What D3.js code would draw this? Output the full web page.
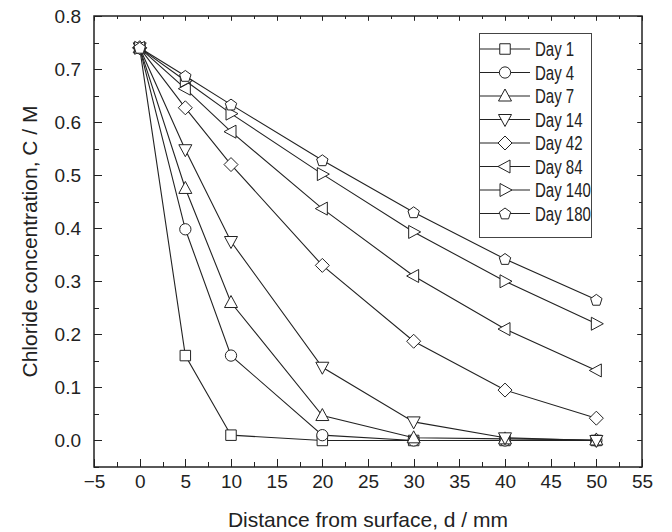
<!DOCTYPE html>
<html>
<head>
<meta charset="utf-8">
<script src="https://cdn.jsdelivr.net/npm/d3@7"></script>
<style>
body { margin: 0; background: #fff; }
text { font-family: "Liberation Sans", Arial, sans-serif; fill: #222; }
</style>
</head>
<body>
<div id="chart"></div>
<script>
var width = 672,
    height = 532,
    margin = { top: 16, right: 30, bottom: 65, left: 94 };

var depth = [0, 5, 10, 20, 30, 40, 50];
var days = ['Day 1', 'Day 4', 'Day 7', 'Day 14', 'Day 42', 'Day 84', 'Day 140', 'Day 180'];
var day1   = [0.74, 0.160, 0.010, 0.000, 0.000, 0.000, 0.000];
var day4   = [0.74, 0.398, 0.160, 0.010, 0.000, 0.000, 0.000];
var day7   = [0.74, 0.475, 0.260, 0.047, 0.005, 0.003, 0.001];
var day14  = [0.74, 0.548, 0.375, 0.138, 0.035, 0.005, 0.000];
var day42  = [0.74, 0.627, 0.520, 0.330, 0.187, 0.095, 0.042];
var day84  = [0.74, 0.663, 0.582, 0.437, 0.310, 0.210, 0.132];
var day140 = [0.74, 0.678, 0.616, 0.502, 0.393, 0.300, 0.220];
var day180 = [0.74, 0.687, 0.633, 0.528, 0.430, 0.342, 0.265];
var series = [day1, day4, day7, day14, day42, day84, day140, day180];
var shapes = ['square', 'circle', 'up', 'down', 'diamond', 'left', 'right', 'pentagon'];

var xTicks = [-5, 0, 5, 10, 15, 20, 25, 30, 35, 40, 45, 50, 55];
var yTicks = [0.0, 0.1, 0.2, 0.3, 0.4, 0.5, 0.6, 0.7, 0.8];

var xScale = d3.scaleLinear()
    .domain([-5, 55])
    .range([margin.left, width - margin.right]);

var yScale = d3.scaleLinear()
    .domain([-0.05, 0.8])
    .range([height - margin.bottom, margin.top]);

var svg = d3.select('#chart').append('svg')
    .attr('width', width)
    .attr('height', height);

// minor ticks every half step
var xMinor = d3.range(-5, 55.1, 2.5);
var yMinor = d3.range(-0.05, 0.801, 0.05);

var x0 = margin.left, x1 = width - margin.right,
    y0 = height - margin.bottom, y1 = margin.top;

function isMajor(v, step) {
    var r = Math.abs(v / step - Math.round(v / step));
    return r < 1e-6;
}

var ticks = svg.append('g').attr('stroke', '#222').attr('stroke-width', 1);

xMinor.forEach(function(v) {
    var len = isMajor(v, 5) ? 8 : 5;
    var px = Math.round(xScale(v)) + 0.5;
    ticks.append('line').attr('x1', px).attr('x2', px).attr('y1', y0).attr('y2', y0 - len);
    ticks.append('line').attr('x1', px).attr('x2', px).attr('y1', y1).attr('y2', y1 + len * 0.6);
});
yMinor.forEach(function(v) {
    var len = isMajor(v, 0.1) ? 8 : 5;
    var py = Math.round(yScale(v)) + 0.5;
    ticks.append('line').attr('x1', x0).attr('x2', x0 + len).attr('y1', py).attr('y2', py);
    ticks.append('line').attr('x1', x1).attr('x2', x1 - len * 0.6).attr('y1', py).attr('y2', py);
});

// axes for labels only
var xAxis = svg.append('g')
    .attr('transform', 'translate(0,' + y0 + ')')
    .call(d3.axisBottom(xScale).tickValues(xTicks).tickSize(0).tickPadding(8));
xAxis.select('.domain').remove();
xAxis.selectAll('text').style('font-size', '19px').attr('fill', '#222');

var yAxis = svg.append('g')
    .attr('transform', 'translate(' + x0 + ',0)')
    .call(d3.axisLeft(yScale).tickValues(yTicks).tickSize(0).tickPadding(13)
        .tickFormat(d3.format('.1f')));
yAxis.select('.domain').remove();
yAxis.selectAll('text').style('font-size', '19px').attr('fill', '#222');

svg.append('rect')
    .attr('x', x0).attr('y', y1)
    .attr('width', x1 - x0).attr('height', y0 - y1)
    .attr('fill', 'none').attr('stroke', '#222').attr('stroke-width', 1.5);

svg.append('text')
    .attr('x', (x0 + x1) / 2)
    .attr('y', 527)
    .attr('text-anchor', 'middle')
    .style('font-size', '21px')
    .text('Distance from surface, d / mm');

svg.append('text')
    .attr('transform', 'translate(37,' + (y0 + y1) / 2 + ') rotate(-90)')
    .attr('text-anchor', 'middle')
    .style('font-size', '21px')
    .text('Chloride concentration, C / M');

function markerPath(s) {
    var r = 6;
    if (s === 'square') return d3.symbol(d3.symbolSquare, 110)();
    if (s === 'circle') return d3.symbol(d3.symbolCircle, 100)();
    if (s === 'diamond') return 'M0,-7L7,0L0,7L-7,0Z';
    if (s === 'up') return 'M0,-7L6.5,5L-6.5,5Z';
    if (s === 'down') return 'M0,7L6.5,-5L-6.5,-5Z';
    if (s === 'left') return 'M-7,0L5,-6.5L5,6.5Z';
    if (s === 'right') return 'M7,0L-5,-6.5L-5,6.5Z';
    if (s === 'pentagon') {
        var pts = d3.range(5).map(function(i) {
            var a = -Math.PI / 2 + i * 2 * Math.PI / 5;
            return [r * Math.cos(a), r * Math.sin(a) + 0.5];
        });
        return 'M' + pts.join('L') + 'Z';
    }
}

var line = d3.line()
    .x(function(d, i) { return xScale(depth[i]); })
    .y(function(d) { return yScale(d); });

series.forEach(function(s, k) {
    var g = svg.append('g').attr('class', 'series');
    g.append('path')
        .attr('d', line(s))
        .attr('fill', 'none')
        .attr('stroke', '#222')
        .attr('stroke-width', 1.1);
    g.selectAll('path.pt')
        .data(s)
        .enter().append('path')
        .attr('class', 'pt')
        .attr('d', markerPath(shapes[k]))
        .attr('transform', function(d, i) { return 'translate(' + xScale(depth[i]) + ',' + yScale(d) + ')'; })
        .attr('fill', '#fff')
        .attr('stroke', '#222')
        .attr('stroke-width', 1);
});

// legend
var legend = svg.append('g');
legend.append('rect')
    .attr('x', 479.5).attr('y', 33.5)
    .attr('width', 112).attr('height', 204)
    .attr('fill', '#fff').attr('stroke', '#444').attr('stroke-width', 1);

days.forEach(function(name, k) {
    var ly = 49 + k * 23.5;
    legend.append('line')
        .attr('x1', 480).attr('x2', 530)
        .attr('y1', ly).attr('y2', ly)
        .attr('stroke', '#222').attr('stroke-width', 1.1);
    legend.append('path')
        .attr('d', markerPath(shapes[k]))
        .attr('transform', 'translate(505,' + ly + ')')
        .attr('fill', '#fff').attr('stroke', '#222');
    // squeeze legend text a little, like the narrow face in the original
    legend.append('text')
        .attr('transform', 'translate(535,' + (ly + 7) + ') scale(0.77,1)')
        .style('font-size', '19.5px')
        .text(name);
});
</script>
</body>
</html>
